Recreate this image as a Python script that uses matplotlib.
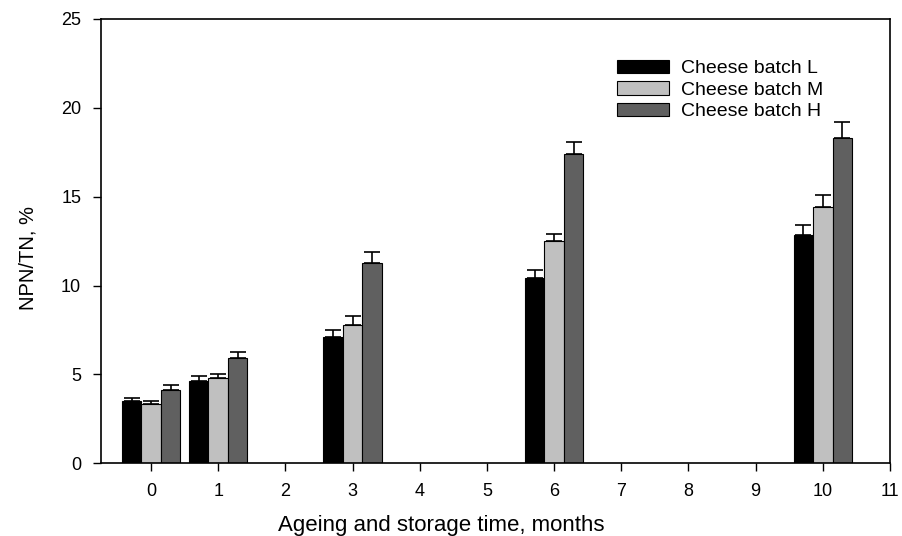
import numpy as np
import matplotlib
matplotlib.use('Agg')
import matplotlib.pyplot as plt

plt.rcParams['font.family'] = ['Liberation Sans', 'DejaVu Sans']

# NPN/TN (%) per batch at each sampling month
months = [0, 1, 3, 6, 10]
batch_l = [3.5, 4.63, 7.1, 10.4, 12.84]
batch_m = [3.32, 4.82, 7.8, 12.5, 14.4]
batch_h = [4.12, 5.9, 11.28, 17.4, 18.28]
err_l = [0.2, 0.28, 0.4, 0.5, 0.56]
err_m = [0.18, 0.18, 0.5, 0.4, 0.69]
err_h = [0.28, 0.38, 0.62, 0.7, 0.92]
labels = ['Cheese batch L', 'Cheese batch M', 'Cheese batch H']
colors = ['#000000', '#c0c0c0', '#606060']

fig = plt.figure(figsize=(9.02, 5.36), dpi=100)
ax = fig.add_axes([0.1116, 0.1356, 0.8751, 0.829])

x = np.array(months, dtype=float)
w = 0.29
series = [(batch_l, err_l), (batch_m, err_m), (batch_h, err_h)]
for i, ((vals, errs), lab, col) in enumerate(zip(series, labels, colors)):
    ax.bar(x + (i - 1) * w, vals, width=w, color=col, edgecolor='black',
           linewidth=0.8, label=lab,
           yerr=[np.zeros(len(errs)), errs],
           error_kw=dict(ecolor='black', elinewidth=1.2, capsize=6, capthick=1.2))

ax.set_xlim(-0.75, 11)
ax.set_ylim(0, 25)
ax.set_xticks(range(0, 12))
ax.set_yticks(range(0, 26, 5))
ax.tick_params(direction='out', length=6, width=1, labelsize=13, pad=8)
for sp in ax.spines.values():
    sp.set_linewidth(1.2)

ax.set_xlabel('Ageing and storage time, months', fontsize=16, va='center')
ax.xaxis.set_label_coords(0.432, -0.141)
ax.set_ylabel('NPN/TN, %', fontsize=14.5, va='center')
ax.yaxis.set_label_coords(-0.092, 0.462)

ax.legend(loc='upper left', bbox_to_anchor=(0.644, 0.926), borderaxespad=0,
          frameon=False, fontsize=14, handlelength=2.68, handleheight=0.69,
          labelspacing=0.2, handletextpad=0.62)

fig.savefig('out.png', dpi=100)
